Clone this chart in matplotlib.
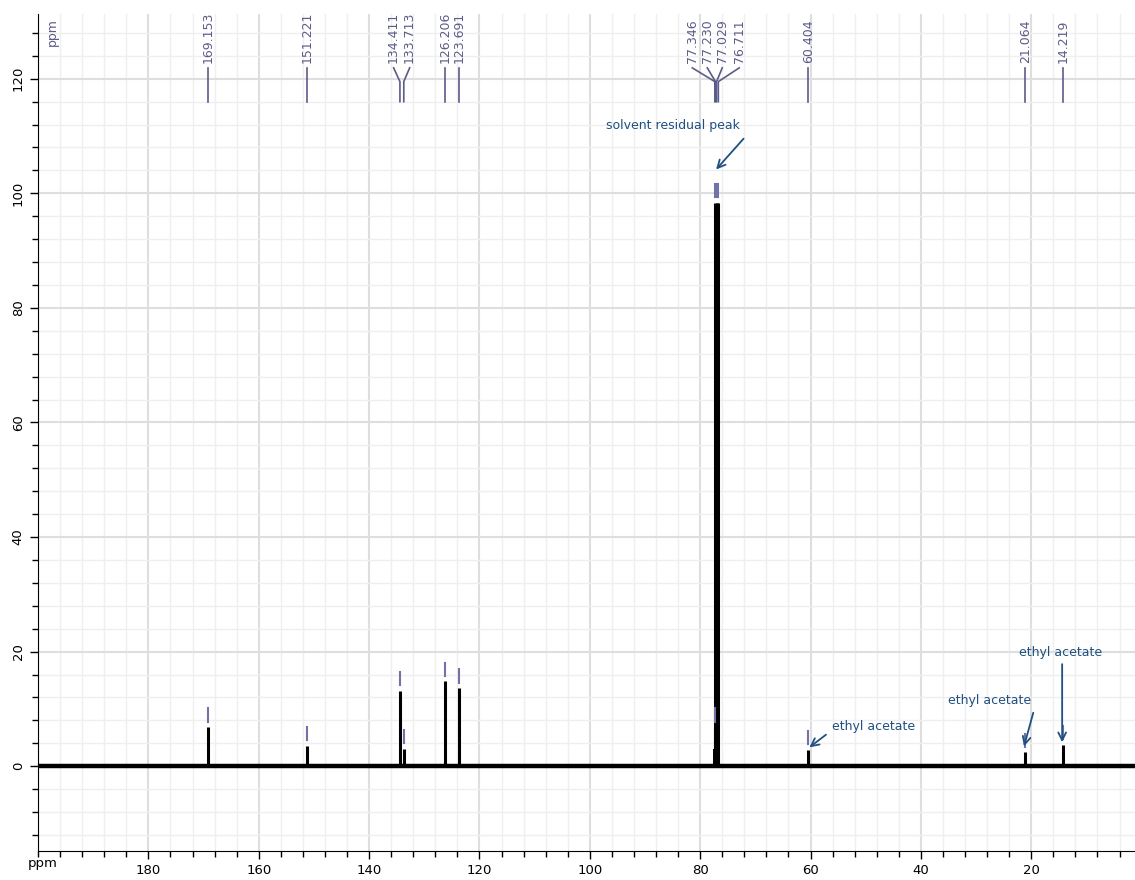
import numpy as np
import matplotlib.pyplot as plt
from matplotlib.ticker import MultipleLocator, FixedLocator

# picos: posicion (ppm) y altura
picos_ppm = [169.153, 151.221, 134.411, 133.713, 126.206, 123.691,
             77.346, 77.230, 77.029, 76.711, 60.404, 21.064, 14.219]
picos_alt = [6.8, 3.5, 13.1, 3.0, 14.8, 13.6,
             98.3, 6.8, 98.3, 98.3, 2.8, 2.4, 3.7]
etiquetas = ['169.153', '151.221', '134.411', '133.713', '126.206', '123.691',
             '77.346', '77.230', '77.029', '76.711', '60.404', '21.064', '14.219']
# posicion de cada etiqueta arriba (ppm)
etiq_x = [169.153, 151.221, 135.55, 132.65, 126.206, 123.691,
          81.43, 78.71, 76.0, 72.92, 60.404, 21.064, 14.219]

# ticks del eje x con numero
ticks_x = [180, 160, 140, 120, 100, 80, 60, 40, 20]

# anotaciones: texto, posicion del texto, punta de la flecha
notas = ['solvent residual peak', 'ethyl acetate', 'ethyl acetate', 'ethyl acetate']
notas_txt = [(85.0, 111.8), (48.6, 7.0), (27.6, 11.4), (14.6, 19.9)]
notas_cola = [(71.8, 109.9), (56.8, 5.8), (19.5, 9.8), (14.4, 18.3)]
notas_punta = [(77.45, 103.8), (60.6, 3.0), (21.45, 3.0), (14.4, 3.7)]

morado = '#5c5c8a'
azul = '#1f5080'

fig = plt.figure(figsize=(11.35, 8.8), dpi=100)
ax = fig.add_axes([38/1135, 29/880, 1 - 38/1135, (851-14)/880])

# linea base (ruido) y picos
ax.plot([200, 1], [0, 0], color='black', lw=3.2, solid_capstyle='butt')
ax.vlines(picos_ppm, 0, picos_alt, color='black', lw=2.2)
# base mas ancha del pico del solvente
ax.fill_between([76.5, 77.6], 0, 3, color='black', lw=0)

# marquitas moradas arriba de cada pico
for x, h in zip(picos_ppm, picos_alt):
    ax.plot([x, x], [h + 1.0, h + 3.3], color='#7272a8', lw=1.5)

# etiquetas de los picos arriba
for lx, px, t in zip(etiq_x, picos_ppm, etiquetas):
    ax.plot([lx, px, px], [121.9, 119.5, 116.0], color=morado, lw=1.2)
    ax.text(lx, 122.8, t, rotation=90, ha='center', va='bottom',
            color=morado, fontsize=9)
ax.text(197.4, 128.2, 'ppm', rotation=90, ha='center', va='center',
        color=morado, fontsize=9)

# anotaciones con flechas
for t, pt, pc, pp in zip(notas, notas_txt, notas_cola, notas_punta):
    ax.text(pt[0], pt[1], t, ha='center', va='center', color=azul, fontsize=9)
    ax.annotate('', xy=pp, xytext=pc,
                arrowprops=dict(arrowstyle='->', color=azul, lw=1.3,
                                mutation_scale=14))

ax.set_xlim(200, 1.2)
ax.set_ylim(-14.8, 131.3)
ax.xaxis.set_major_locator(FixedLocator(ticks_x))
ax.xaxis.set_minor_locator(MultipleLocator(4))
ax.yaxis.set_major_locator(MultipleLocator(20))
ax.yaxis.set_minor_locator(MultipleLocator(4))
ax.grid(which='major', color='#dedede', lw=1.5)
ax.grid(which='minor', color='#efefef', lw=1)
ax.set_axisbelow(True)
ax.spines['top'].set_visible(False)
ax.spines['right'].set_visible(False)
ax.tick_params(which='major', length=6, width=1, labelsize=9.5)
ax.tick_params(which='minor', length=4, width=1)
plt.setp(ax.get_yticklabels(), rotation=90, va='center')
fig.text(43/1135, 1 - 863/880, 'ppm', ha='center', va='center', fontsize=9.5)

plt.savefig('out.png', dpi=100)
